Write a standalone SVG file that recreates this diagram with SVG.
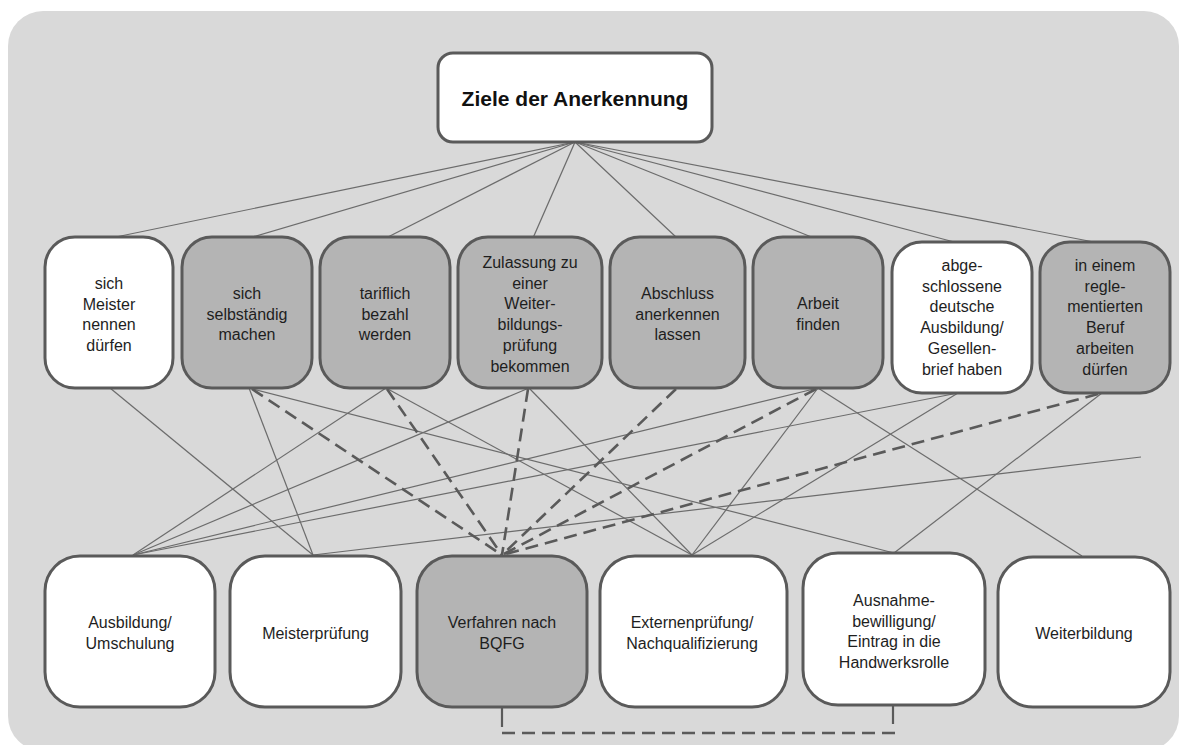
<svg xmlns="http://www.w3.org/2000/svg" width="1179" height="745" viewBox="0 0 1179 745">
  <style>
    .bg { fill: #d9d9d9; }
    .box { stroke: #5a5a5a; stroke-width: 3; }
    .white { fill: #ffffff; }
    .grey { fill: #b4b4b4; }
    .lbl { font-family: "Liberation Sans", Arial, sans-serif; font-size: 16px; fill: #1e1e1e; text-anchor: middle; }
    .title { font-family: "Liberation Sans", Arial, sans-serif; font-size: 21px; font-weight: bold; fill: #111111; text-anchor: middle; }
    .thin { stroke: #6c6c6c; stroke-width: 1.2; fill: none; }
    .dash { stroke: #5a5a5a; stroke-width: 2.6; stroke-dasharray: 13 7; fill: none; }
    .bracket { stroke: #5a5a5a; stroke-width: 2.2; fill: none; }
  </style>

  <!-- panel -->
  <rect class="bg" x="8" y="11" width="1171" height="740" rx="35" ry="35"/>

  <g id="connectors">
    <!-- title to goals -->
    <line class="thin" x1="575" y1="142" x2="111" y2="238"/>
    <line class="thin" x1="575" y1="142" x2="249" y2="238"/>
    <line class="thin" x1="575" y1="142" x2="386" y2="238"/>
    <line class="thin" x1="575" y1="142" x2="533" y2="238"/>
    <line class="thin" x1="575" y1="142" x2="677" y2="238"/>
    <line class="thin" x1="575" y1="142" x2="814" y2="238"/>
    <line class="thin" x1="575" y1="142" x2="958" y2="243"/>
    <line class="thin" x1="575" y1="142" x2="1099" y2="243"/>

    <!-- goals to paths (solid) -->
    <line class="thin" x1="110" y1="388" x2="313" y2="555"/>
    <line class="thin" x1="249" y1="388" x2="313" y2="555"/>
    <line class="thin" x1="249" y1="388" x2="894" y2="553"/>
    <line class="thin" x1="386" y1="388" x2="133" y2="555"/>
    <line class="thin" x1="386" y1="388" x2="692" y2="555"/>
    <line class="thin" x1="529" y1="388" x2="133" y2="555"/>
    <line class="thin" x1="529" y1="388" x2="692" y2="555"/>
    <line class="thin" x1="818" y1="388" x2="133" y2="555"/>
    <line class="thin" x1="818" y1="388" x2="692" y2="555"/>
    <line class="thin" x1="818" y1="388" x2="1082" y2="556"/>
    <line class="thin" x1="958" y1="393" x2="133" y2="555"/>
    <line class="thin" x1="958" y1="393" x2="692" y2="555"/>
    <line class="thin" x1="1102" y1="393" x2="894" y2="553"/>
    <line class="thin" x1="313" y1="555" x2="1141" y2="457"/>

    <!-- goals to BQFG procedure (dashed) -->
    <line class="dash" x1="252" y1="389" x2="502" y2="555"/>
    <line class="dash" x1="387" y1="389" x2="502" y2="555"/>
    <line class="dash" x1="528" y1="389" x2="502" y2="555"/>
    <line class="dash" x1="676" y1="389" x2="502" y2="555"/>
    <line class="dash" x1="816" y1="389" x2="502" y2="555"/>
    <line class="dash" x1="1098" y1="394" x2="502" y2="555"/>

    <!-- bracket between BQFG and Ausnahmebewilligung -->
    <line class="bracket" x1="502" y1="707" x2="502" y2="727"/>
    <line class="bracket" x1="893" y1="705" x2="893" y2="724"/>
    <line class="dash" x1="502" y1="733" x2="895" y2="733"/>
  </g>

  <g id="title">
    <rect class="box white" x="438" y="53" width="274" height="89" rx="15" ry="15"/>
    <text class="title" x="575" y="106">Ziele der Anerkennung</text>
  </g>

  <!-- goals -->
  <g id="goal-meister">
    <rect class="box white" x="45" y="237" width="128" height="151" rx="30" ry="30"/>
    <text class="lbl" x="109" y="289"><tspan x="109">sich</tspan><tspan x="109" dy="20.7">Meister</tspan><tspan x="109" dy="20.7">nennen</tspan><tspan x="109" dy="20.7">dürfen</tspan></text>
  </g>
  <g id="goal-selbstaendig">
    <rect class="box grey" x="182" y="237" width="130" height="151" rx="30" ry="30"/>
    <text class="lbl" x="247" y="299"><tspan x="247">sich</tspan><tspan x="247" dy="20.7">selbständig</tspan><tspan x="247" dy="20.7">machen</tspan></text>
  </g>
  <g id="goal-tarif">
    <rect class="box grey" x="320" y="237" width="130" height="151" rx="30" ry="30"/>
    <text class="lbl" x="385" y="299"><tspan x="385">tariflich</tspan><tspan x="385" dy="20.7">bezahl</tspan><tspan x="385" dy="20.7">werden</tspan></text>
  </g>
  <g id="goal-zulassung">
    <rect class="box grey" x="458" y="237" width="144" height="151" rx="30" ry="30"/>
    <text class="lbl" x="530" y="268"><tspan x="530">Zulassung zu</tspan><tspan x="530" dy="20.7">einer</tspan><tspan x="530" dy="20.7">Weiter-</tspan><tspan x="530" dy="20.7">bildungs-</tspan><tspan x="530" dy="20.7">prüfung</tspan><tspan x="530" dy="20.7">bekommen</tspan></text>
  </g>
  <g id="goal-abschluss">
    <rect class="box grey" x="610" y="237" width="135" height="151" rx="30" ry="30"/>
    <text class="lbl" x="677.5" y="299"><tspan x="677.5">Abschluss</tspan><tspan x="677.5" dy="20.7">anerkennen</tspan><tspan x="677.5" dy="20.7">lassen</tspan></text>
  </g>
  <g id="goal-arbeit">
    <rect class="box grey" x="753" y="237" width="130" height="151" rx="30" ry="30"/>
    <text class="lbl" x="818" y="309"><tspan x="818">Arbeit</tspan><tspan x="818" dy="20.7">finden</tspan></text>
  </g>
  <g id="goal-gesellenbrief">
    <rect class="box white" x="892" y="242" width="140" height="151" rx="30" ry="30"/>
    <text class="lbl" x="962" y="271"><tspan x="962">abge-</tspan><tspan x="962" dy="20.7">schlossene</tspan><tspan x="962" dy="20.7">deutsche</tspan><tspan x="962" dy="20.7">Ausbildung/</tspan><tspan x="962" dy="20.7">Gesellen-</tspan><tspan x="962" dy="20.7">brief haben</tspan></text>
  </g>
  <g id="goal-reglementiert">
    <rect class="box grey" x="1040" y="242" width="130" height="151" rx="30" ry="30"/>
    <text class="lbl" x="1105" y="271"><tspan x="1105">in einem</tspan><tspan x="1105" dy="20.7">regle-</tspan><tspan x="1105" dy="20.7">mentierten</tspan><tspan x="1105" dy="20.7">Beruf</tspan><tspan x="1105" dy="20.7">arbeiten</tspan><tspan x="1105" dy="20.7">dürfen</tspan></text>
  </g>

  <!-- paths -->
  <g id="path-ausbildung">
    <rect class="box white" x="45" y="556" width="170" height="151" rx="35" ry="35"/>
    <text class="lbl" x="130" y="628"><tspan x="130">Ausbildung/</tspan><tspan x="130" dy="20.7">Umschulung</tspan></text>
  </g>
  <g id="path-meisterpruefung">
    <rect class="box white" x="230" y="556" width="171" height="151" rx="35" ry="35"/>
    <text class="lbl" x="315.5" y="639">Meisterprüfung</text>
  </g>
  <g id="path-bqfg">
    <rect class="box grey" x="417" y="556" width="170" height="151" rx="35" ry="35"/>
    <text class="lbl" x="502" y="628"><tspan x="502">Verfahren nach</tspan><tspan x="502" dy="20.7">BQFG</tspan></text>
  </g>
  <g id="path-externen">
    <rect class="box white" x="600" y="556" width="187" height="151" rx="35" ry="35"/>
    <text class="lbl" x="692" y="628"><tspan x="692">Externenprüfung/</tspan><tspan x="692" dy="20.7">Nachqualifizierung</tspan></text>
  </g>
  <g id="path-ausnahme">
    <rect class="box white" x="803" y="553" width="182" height="152" rx="35" ry="35"/>
    <text class="lbl" x="894" y="606"><tspan x="894">Ausnahme-</tspan><tspan x="894" dy="20.7">bewilligung/</tspan><tspan x="894" dy="20.7">Eintrag in die</tspan><tspan x="894" dy="20.7">Handwerksrolle</tspan></text>
  </g>
  <g id="path-weiterbildung">
    <rect class="box white" x="998" y="557" width="172" height="150" rx="35" ry="35"/>
    <text class="lbl" x="1084" y="639">Weiterbildung</text>
  </g>
</svg>
